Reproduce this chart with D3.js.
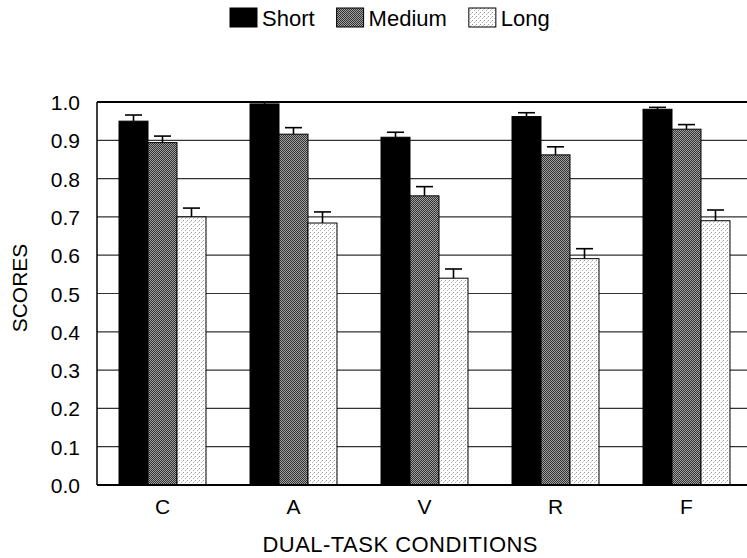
<!DOCTYPE html>
<html>
<head>
<meta charset="utf-8">
<script src="https://cdn.jsdelivr.net/npm/d3@7"></script>
<style>
  body { margin: 0; background: #fff; }
  text { font-family: "Liberation Sans", Arial, sans-serif; fill: #000; }
</style>
</head>
<body>
<svg width="747" height="558"></svg>
<script>
// data
var conditions = ["C", "A", "V", "R", "F"];
var seriesNames = ["Short", "Medium", "Long"];
var shortScores = [0.950, 0.995, 0.908, 0.962, 0.981];
var shortErr = [0.016, 0.005, 0.013, 0.010, 0.005];
var mediumScores = [0.894, 0.916, 0.755, 0.862, 0.929];
var mediumErr = [0.017, 0.017, 0.024, 0.021, 0.012];
var longScores = [0.700, 0.684, 0.540, 0.591, 0.690];
var longErr = [0.023, 0.029, 0.024, 0.026, 0.028];
var yTicks = [0, 0.1, 0.2, 0.3, 0.4, 0.5, 0.6, 0.7, 0.8, 0.9, 1.0];

var svg = d3.select("svg");
var plotLeft = 97, plotRight = 752, plotTop = 102, plotBottom = 485;

// fill patterns (scan-like screens)
var defs = svg.append("defs");
var pm = defs.append("pattern").attr("id", "pMedium")
  .attr("width", 2).attr("height", 2).attr("patternUnits", "userSpaceOnUse");
pm.append("rect").attr("width", 2).attr("height", 2).attr("fill", "#a0a0a0");
pm.append("rect").attr("width", 1).attr("height", 1).attr("fill", "#333");
pm.append("rect").attr("x", 1).attr("y", 1).attr("width", 1).attr("height", 1).attr("fill", "#333");

var pl = defs.append("pattern").attr("id", "pLong")
  .attr("width", 4).attr("height", 4).attr("patternUnits", "userSpaceOnUse");
pl.append("rect").attr("width", 4).attr("height", 4).attr("fill", "#fff");
pl.append("rect").attr("x", 0).attr("y", 0).attr("width", 1).attr("height", 1).attr("fill", "#9a9a9a");
pl.append("rect").attr("x", 2).attr("y", 2).attr("width", 1).attr("height", 1).attr("fill", "#b5b5b5");
pl.append("rect").attr("x", 3).attr("y", 1).attr("width", 1).attr("height", 1).attr("fill", "#d0d0d0");

var fills = ["#000", "url(#pMedium)", "url(#pLong)"];

var x = d3.scaleBand().domain(conditions).range([plotLeft, plotRight])
  .paddingInner(0.336).paddingOuter(0.168);
var xs = d3.scaleBand().domain(seriesNames).range([0, x.bandwidth()]);
var y = d3.scaleLinear().domain([0, 1]).range([plotBottom, plotTop]);

// gridlines
svg.append("g").selectAll("line").data(yTicks.slice(1, -1)).enter().append("line")
  .attr("x1", plotLeft).attr("x2", 747)
  .attr("y1", function(d) { return y(d); }).attr("y2", function(d) { return y(d); })
  .attr("stroke", "#333").attr("stroke-width", 1.2);

// y axis
var yAxis = svg.append("g").attr("transform", "translate(" + plotLeft + ",0)")
  .call(d3.axisLeft(y).tickValues(yTicks).tickFormat(d3.format(".1f")).tickSize(0).tickPadding(17));
yAxis.select(".domain").remove();
yAxis.selectAll("text").style("font-size", "21px").attr("dy", "0.36em");

// bars
var data = conditions.map(function(c, i) {
  return [
    { cond: c, s: 0, v: shortScores[i], e: shortErr[i] },
    { cond: c, s: 1, v: mediumScores[i], e: mediumErr[i] },
    { cond: c, s: 2, v: longScores[i], e: longErr[i] }
  ];
});

var groups = svg.append("g").selectAll("g").data(data).enter().append("g")
  .attr("transform", function(d) { return "translate(" + x(d[0].cond) + ",0)"; });

groups.selectAll("rect").data(function(d) { return d; }).enter().append("rect")
  .attr("x", function(d) { return xs(seriesNames[d.s]); })
  .attr("width", xs.bandwidth())
  .attr("y", function(d) { return y(d.v); })
  .attr("height", function(d) { return y(0) - y(d.v); })
  .attr("fill", function(d) { return fills[d.s]; })
  .attr("stroke", "#000").attr("stroke-width", 1);

// error bars (upper half only)
var eb = groups.selectAll("g.err").data(function(d) { return d; }).enter().append("g").attr("class", "err");
eb.append("line")
  .attr("x1", function(d) { return xs(seriesNames[d.s]) + xs.bandwidth() / 2; })
  .attr("x2", function(d) { return xs(seriesNames[d.s]) + xs.bandwidth() / 2; })
  .attr("y1", function(d) { return y(d.v); })
  .attr("y2", function(d) { return y(d.v + d.e); })
  .attr("stroke", "#000").attr("stroke-width", 1.6);
eb.append("line")
  .attr("x1", function(d) { return xs(seriesNames[d.s]) + xs.bandwidth() / 2 - 8.5; })
  .attr("x2", function(d) { return xs(seriesNames[d.s]) + xs.bandwidth() / 2 + 8.5; })
  .attr("y1", function(d) { return y(d.v + d.e); })
  .attr("y2", function(d) { return y(d.v + d.e); })
  .attr("stroke", "#000").attr("stroke-width", 1.6);

// frame
svg.append("line").attr("x1", plotLeft).attr("x2", 747).attr("y1", plotTop).attr("y2", plotTop)
  .attr("stroke", "#000").attr("stroke-width", 2);
svg.append("line").attr("x1", plotLeft).attr("x2", 747).attr("y1", plotBottom).attr("y2", plotBottom)
  .attr("stroke", "#000").attr("stroke-width", 2);
svg.append("line").attr("x1", plotLeft).attr("x2", plotLeft).attr("y1", plotTop).attr("y2", plotBottom)
  .attr("stroke", "#000").attr("stroke-width", 1.5);

// category labels
svg.append("g").selectAll("text").data(conditions).enter().append("text")
  .attr("x", function(d) { return x(d) + x.bandwidth() / 2; })
  .attr("y", 514)
  .attr("text-anchor", "middle")
  .style("font-size", "21px")
  .text(function(d) { return d; });

// axis titles
svg.append("text").attr("x", 400).attr("y", 552).attr("text-anchor", "middle")
  .style("font-size", "22px").attr("textLength", 275).text("DUAL-TASK CONDITIONS");
svg.append("text").attr("transform", "translate(27,288) rotate(-90)")
  .attr("text-anchor", "middle").style("font-size", "21px").text("SCORES");

// legend
var lx = 230;
seriesNames.forEach(function(name, i) {
  svg.append("rect").attr("x", lx).attr("y", 8).attr("width", 27).attr("height", 19)
    .attr("fill", fills[i]).attr("stroke", "#000").attr("stroke-width", 1);
  var t = svg.append("text").attr("x", lx + 32).attr("y", 26)
    .style("font-size", "22px").text(name);
  lx += 32 + t.node().getComputedTextLength() + 22;
});
</script>
</body>
</html>
